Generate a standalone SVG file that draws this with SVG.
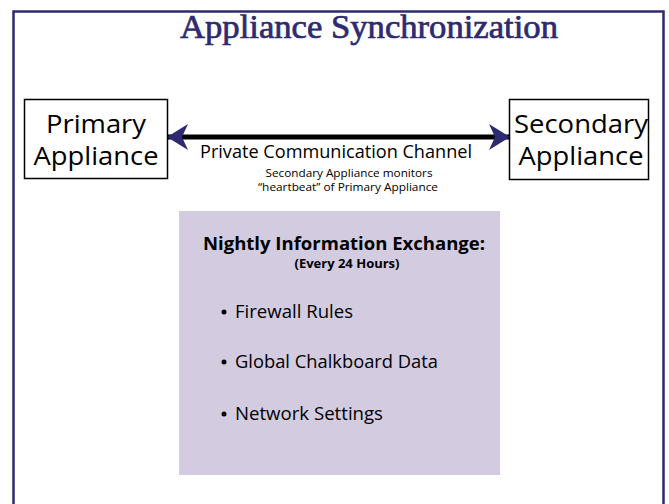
<svg xmlns="http://www.w3.org/2000/svg" width="669" height="504" viewBox="0 0 669 504">
<style>
.frame{fill:none;stroke:#2e2a72;stroke-width:2.5}
.node{fill:#fff;stroke:#000;stroke-width:1.5}
.big{font-family:"Open Sans","Noto Sans",sans-serif;font-size:26px;fill:#000;text-anchor:middle}
.sans{font-family:"Open Sans","Noto Sans",sans-serif;fill:#000}
.title{font-family:"Liberation Serif","DejaVu Serif",serif;font-size:33px;fill:#2e2a72;stroke:#2e2a72;stroke-width:0.7}
</style>
<defs>
<marker id="ah" markerWidth="22" markerHeight="28" refX="21" refY="13" orient="auto-start-reverse" markerUnits="userSpaceOnUse" viewBox="0 0 22 26">
<path d="M0,0 L21,13 L0,26 L6,13 Z" fill="#2e2a72"/>
</marker>
</defs>
<rect width="669" height="504" fill="#fff"/>
<path class="frame" d="M13.5,504 V11.5 H663.5 V504"/>
<text class="title" x="369" y="38" text-anchor="middle" textLength="378" lengthAdjust="spacingAndGlyphs">Appliance Synchronization</text>
<g id="connectors">
<line x1="167" y1="137" x2="510" y2="137" stroke="#000" stroke-width="5" marker-start="url(#ah)" marker-end="url(#ah)"/>
<text class="sans" x="336" y="158" font-size="18" text-anchor="middle" textLength="272" lengthAdjust="spacingAndGlyphs">Private Communication Channel</text>
<text class="sans" x="349" y="177" font-size="10.5" text-anchor="middle" textLength="167" lengthAdjust="spacingAndGlyphs">Secondary Appliance monitors</text>
<text class="sans" x="348" y="191" font-size="10.5" text-anchor="middle" textLength="180" lengthAdjust="spacingAndGlyphs">“heartbeat” of Primary Appliance</text>
</g>
<g id="primary">
<rect class="node" x="24.5" y="99.5" width="143" height="79"/>
<text class="big" x="96" y="133" textLength="100" lengthAdjust="spacingAndGlyphs">Primary</text>
<text class="big" x="96" y="165" textLength="125" lengthAdjust="spacingAndGlyphs">Appliance</text>
</g>
<g id="secondary">
<rect class="node" x="509.5" y="99.5" width="139" height="80"/>
<text class="big" x="581" y="133" textLength="134" lengthAdjust="spacingAndGlyphs">Secondary</text>
<text class="big" x="581" y="165" textLength="125" lengthAdjust="spacingAndGlyphs">Appliance</text>
</g>
<g id="exchange">
<rect x="179" y="211" width="321" height="264" fill="#d3cbe0"/>
<text class="sans" x="344" y="250" font-size="18" font-weight="bold" text-anchor="middle" textLength="282" lengthAdjust="spacingAndGlyphs">Nightly Information Exchange:</text>
<text class="sans" x="347" y="268" font-size="13" font-weight="bold" text-anchor="middle" textLength="105" lengthAdjust="spacingAndGlyphs">(Every 24 Hours)</text>
<circle cx="224" cy="312" r="2.5" fill="#000"/>
<text class="sans" x="235" y="318" font-size="18" textLength="118" lengthAdjust="spacingAndGlyphs">Firewall Rules</text>
<circle cx="224" cy="362" r="2.5" fill="#000"/>
<text class="sans" x="235" y="368" font-size="18" textLength="203" lengthAdjust="spacingAndGlyphs">Global Chalkboard Data</text>
<circle cx="224" cy="414" r="2.5" fill="#000"/>
<text class="sans" x="235" y="420" font-size="18" textLength="148" lengthAdjust="spacingAndGlyphs">Network Settings</text>
</g>
</svg>
